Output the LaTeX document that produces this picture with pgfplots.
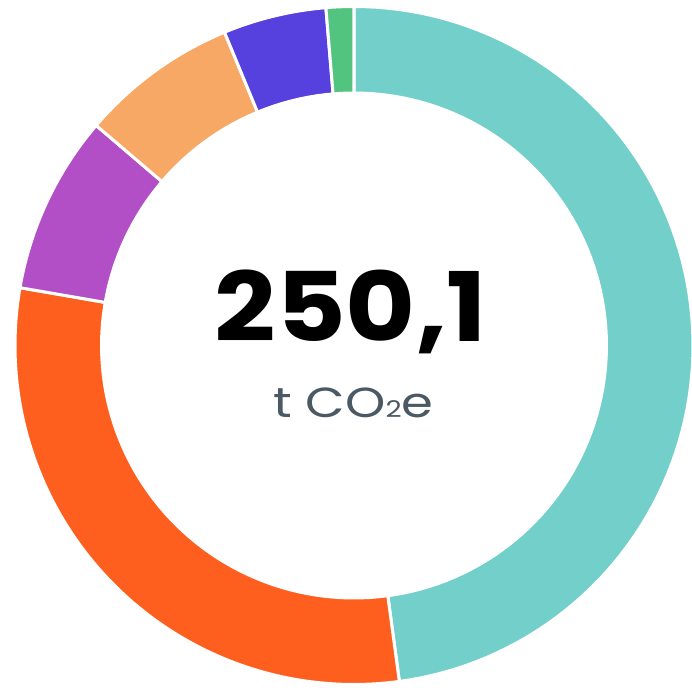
\documentclass[border=0pt]{standalone}
\usepackage{pgfplots}
\usepackage{pgfplotstable}
\pgfplotsset{compat=1.18}
\usepackage{fontspec}
\setmainfont{Poppins}
\newfontfamily\bigfont[FakeStretch=1.12]{Poppins}
\newfontfamily\subfont[FakeStretch=1.22]{Poppins}
\definecolor{cTeal}{HTML}{73CFCA}
\definecolor{cOrange}{HTML}{FE5F1F}
\definecolor{cPurple}{HTML}{B24EC6}
\definecolor{cApricot}{HTML}{F8A865}
\definecolor{cBlue}{HTML}{5741DE}
\definecolor{cGreen}{HTML}{52C47F}
\definecolor{cSub}{HTML}{4A5964}
\pgfplotstableread{
value color
119.7 cTeal
74.7 cOrange
21.3 cPurple
18.8 cApricot
12.3 cBlue
3.3 cGreen
}\data
\begin{document}
\begin{tikzpicture}
\begin{axis}[
  scale only axis, width=346pt, height=343.5pt,
  xmin=0, xmax=692, ymin=0, ymax=687,
  hide axis,
]
\def\tot{0}
\pgfplotsforeachungrouped \i in {0,...,5}{%
  \pgfplotstablegetelem{\i}{value}\of\data
  \pgfmathsetmacro\tot{\tot+\pgfplotsretval}%
  \global\let\tot\tot
}
\def\start{90}
\pgfplotsforeachungrouped \i in {0,...,5}{%
  \pgfplotstablegetelem{\i}{value}\of\data \let\v\pgfplotsretval
  \pgfplotstablegetelem{\i}{color}\of\data \let\c\pgfplotsretval
  \pgfmathsetmacro\frac{\v/\tot}%
  \pgfmathsetmacro\stop{\start-360*\frac}%
  \edef\doit{\noexpand\addplot[fill=\c, draw=white, line width=1.5pt, domain=\stop:\start, samples=90]
    ({354+339*cos(x)},{341.5+339*sin(x)}) -- (axis cs:354,341.5) -- cycle;}%
  \doit
  \global\let\start\stop
}
\addplot[fill=white, draw=none, domain=0:360, samples=180] ({354+254*cos(x)},{341.5+254*sin(x)}) -- cycle;
\node[font=\bigfont\fontsize{48}{48}\selectfont\bfseries, anchor=base] at (axis cs:351,345) {250,1};
\node[font=\subfont\fontsize{21}{21}\selectfont, text=cSub, anchor=base] at (axis cs:353.5,269) {t CO{\fontsize{11.5}{11.5}\selectfont 2}e};
\end{axis}
\path (current axis.south west) rectangle (current axis.north east);
\end{tikzpicture}
\end{document}
